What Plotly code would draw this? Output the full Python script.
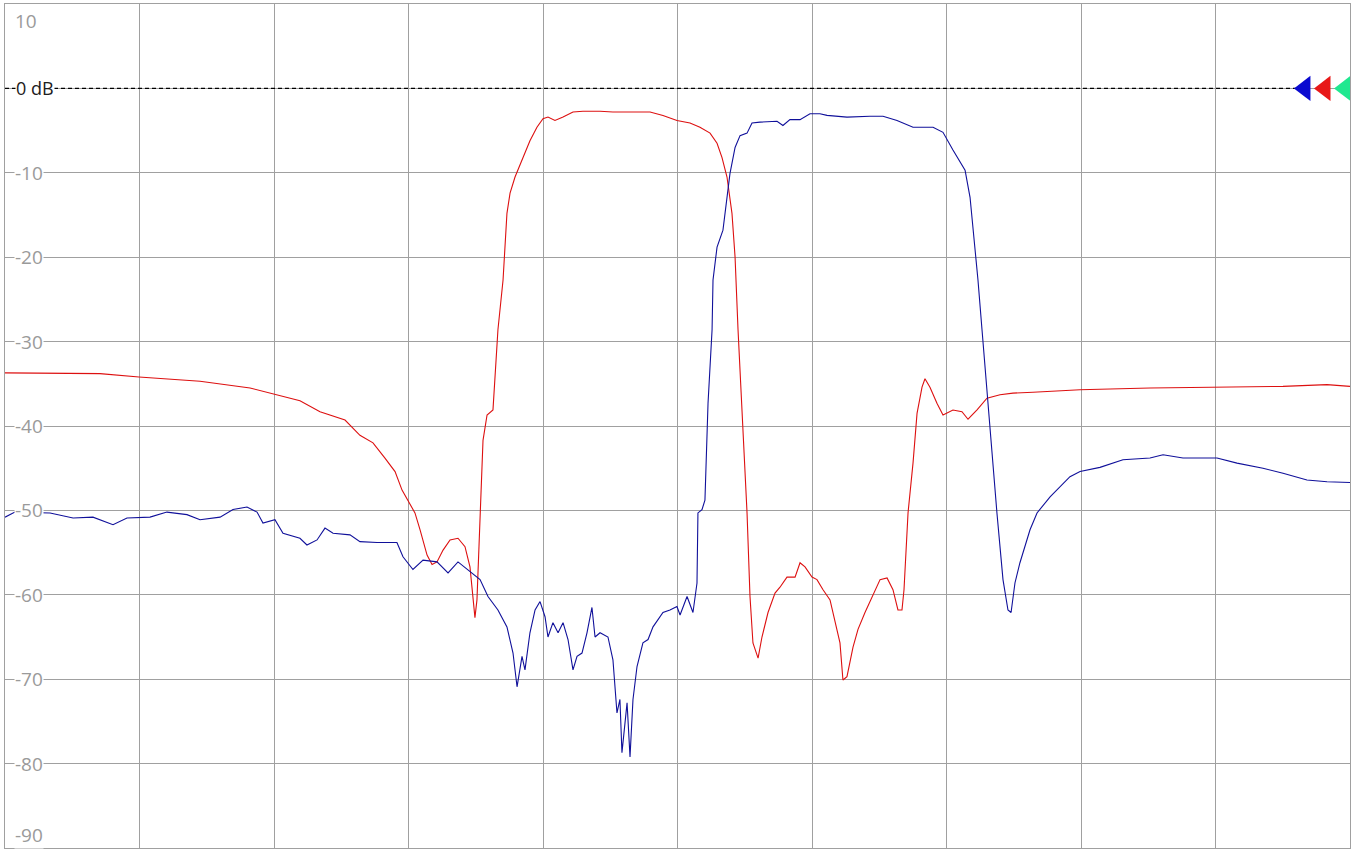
import plotly.graph_objects as go

# x in grid divisions (0..10), y in dB
red_x = [0, 0.706, 0.996, 1.450, 1.822, 2.0, 2.193, 2.342, 2.528, 2.639, 2.736, 2.825, 2.900, 2.952,
         3.011, 3.048, 3.086, 3.138, 3.175, 3.212, 3.257, 3.309, 3.368, 3.420, 3.457, 3.480, 3.494,
         3.509, 3.524, 3.539, 3.554, 3.584, 3.628, 3.665, 3.703, 3.732, 3.755, 3.792, 3.851, 3.903,
         3.955, 4.0, 4.037, 4.089, 4.149, 4.223, 4.297, 4.424, 4.520, 4.796, 4.892, 4.996, 5.093,
         5.167, 5.242, 5.294, 5.331, 5.368, 5.405, 5.428, 5.450, 5.487, 5.517, 5.539, 5.561, 5.599,
         5.628, 5.673, 5.725, 5.762, 5.814, 5.874, 5.911, 5.948, 6.0, 6.037, 6.082, 6.134, 6.171,
         6.208, 6.230, 6.260, 6.305, 6.342, 6.394, 6.446, 6.506, 6.558, 6.602, 6.639, 6.669, 6.684,
         6.714, 6.751, 6.781, 6.818, 6.840, 6.877, 6.929, 6.974, 7.048, 7.115, 7.160, 7.227, 7.301,
         7.398, 7.494, 7.643, 7.993, 8.513, 9.011, 9.502, 9.829, 10.0]
red_y = [-33.7, -33.8, -34.2, -34.7, -35.5, -36.2, -37.0, -38.3, -39.3, -41.1, -42.0, -43.8, -45.4, -47.6,
         -49.3, -50.3, -52.3, -55.3, -56.4, -56.1, -54.7, -53.5, -53.3, -54.3, -56.7, -60.2, -62.7,
         -60.6, -54.1, -48.8, -41.7, -38.7, -38.1, -28.6, -22.7, -14.8, -12.4, -10.5, -8.2, -6.2,
         -4.6, -3.6, -3.4, -3.8, -3.4, -2.8, -2.7, -2.7, -2.8, -2.8, -3.2, -3.8, -4.1,
         -4.6, -5.3, -6.5, -8.2, -10.5, -14.8, -20.0, -28.6, -40.5, -50.3, -60.2, -65.7, -67.5,
         -65.0, -62.1, -59.8, -59.1, -57.9, -57.9, -56.2, -56.7, -57.9, -58.2, -59.4, -60.6, -63.0,
         -65.7, -70.1, -69.7, -66.2, -64.1, -62.1, -60.2, -58.2, -58.0, -59.4, -61.8, -61.8, -59.4,
         -50.3, -44.4, -38.5, -35.4, -34.4, -35.4, -37.3, -38.7, -38.1, -38.3, -39.2, -38.1, -36.7,
         -36.3, -36.1, -36.0, -35.7, -35.5, -35.4, -35.3, -35.1, -35.3]

blue_x = [0, 0.074, 0.335, 0.506, 0.654, 0.803, 0.907, 1.078, 1.204, 1.353, 1.450, 1.599, 1.695, 1.799,
          1.874, 1.918, 2.007, 2.067, 2.193, 2.245, 2.320, 2.379, 2.439, 2.565, 2.639, 2.766, 2.914,
          2.959, 3.033, 3.108, 3.212, 3.294, 3.368, 3.457, 3.532, 3.591, 3.665, 3.732, 3.777, 3.807,
          3.844, 3.866, 3.903, 3.941, 3.978, 4.015, 4.037, 4.074, 4.112, 4.149, 4.186, 4.223, 4.253,
          4.290, 4.327, 4.364, 4.387, 4.424, 4.483, 4.520, 4.550, 4.572, 4.587, 4.625, 4.647, 4.669,
          4.699, 4.743, 4.781, 4.818, 4.892, 4.944, 4.996, 5.019, 5.071, 5.115, 5.145, 5.152, 5.182,
          5.204, 5.227, 5.257, 5.264, 5.294, 5.338, 5.390, 5.428, 5.465, 5.517, 5.554, 5.613, 5.740,
          5.784, 5.836, 5.911, 5.985, 6.059, 6.112, 6.260, 6.431, 6.528, 6.632, 6.751, 6.900, 6.974,
          7.048, 7.138, 7.175, 7.212, 7.234, 7.264, 7.323, 7.375, 7.420, 7.457, 7.480, 7.509, 7.546,
          7.621, 7.673, 7.770, 7.918, 7.993, 8.141, 8.312, 8.513, 8.610, 8.758, 9.011, 9.160, 9.353,
          9.502, 9.680, 9.829, 10.0]
blue_y = [-50.8, -50.2, -50.3, -50.9, -50.8, -51.7, -50.9, -50.8, -50.2, -50.5, -51.1, -50.8, -49.9, -49.6,
          -50.2, -51.5, -51.1, -52.7, -53.3, -54.1, -53.5, -52.1, -52.7, -52.9, -53.7, -53.8, -53.8,
          -55.5, -57.0, -55.9, -56.1, -57.4, -56.1, -57.3, -58.2, -60.2, -61.8, -63.8, -66.9, -70.9,
          -67.3, -68.9, -64.5, -61.8, -60.8, -62.6, -65.0, -63.3, -64.5, -63.3, -65.3, -68.9, -67.3,
          -66.9, -64.5, -61.5, -65.0, -64.5, -65.0, -67.7, -74.0, -72.4, -78.7, -72.8, -79.2, -72.4,
          -68.5, -65.7, -65.3, -63.8, -62.1, -61.8, -61.4, -62.4, -60.2, -62.1, -58.6, -50.3, -49.9,
          -48.8, -37.3, -28.6, -22.7, -18.8, -16.8, -10.1, -7.0, -5.6, -5.3, -4.1, -4.0, -3.9,
          -4.4, -3.7, -3.7, -3.0, -3.0, -3.2, -3.4, -3.3, -3.3, -3.8, -4.6, -4.6, -5.2,
          -7.3, -9.7, -12.9, -18.8, -22.7, -28.6, -40.5, -50.3, -58.2, -61.8, -62.1, -58.6, -56.2,
          -52.3, -50.3, -48.4, -46.0, -45.4, -44.9, -44.0, -43.8, -43.4, -43.8, -43.8, -44.4, -45.0,
          -45.6, -46.4, -46.6, -46.7]

tick_vals = [10, -10, -20, -30, -40, -50, -60, -70, -80, -90]
tick_text = ["10", "-10", "-20", "-30", "-40", "-50", "-60", "-70", "-80", "-90"]
ref_level = 0
ref_label = "0 dB"
marker_x = [9.665, 9.814, 9.963]
marker_colors = ["#0a0ad0", "#e81818", "#20e890"]

fig = go.Figure()

fig.add_trace(go.Scatter(x=[0, marker_x[0]], y=[ref_level, ref_level], mode="lines",
                         line=dict(color="#000000", width=1.2, dash="4px,3px"), hoverinfo="skip"))
fig.add_trace(go.Scatter(x=red_x, y=red_y, mode="lines", line=dict(color="#dd1010", width=1.1)))
fig.add_trace(go.Scatter(x=blue_x, y=blue_y, mode="lines", line=dict(color="#10109a", width=1.1)))
for mx, mc in zip(marker_x, marker_colors):
    fig.add_trace(go.Scatter(x=[mx], y=[ref_level], mode="markers", cliponaxis=False,
                             marker=dict(symbol="triangle-left", size=22, color=mc,
                                         line=dict(width=0))))

annotations = []
for v, t in zip(tick_vals, tick_text):
    yanchor = "middle"
    yshift = 0
    if v == 10:
        yanchor = "top"
        yshift = -3
    elif v == -90:
        yanchor = "bottom"
        yshift = -1
    annotations.append(dict(x=0, y=v, xref="paper", yref="y", text=t, showarrow=False,
                            xanchor="left", yanchor=yanchor, xshift=9, yshift=yshift,
                            font=dict(family="Open Sans", size=19, color="#9a9a9a"),
                            bgcolor="#ffffff", borderpad=0))
annotations.append(dict(x=0, y=ref_level, xref="paper", yref="y", text=ref_label, showarrow=False,
                        xanchor="left", yanchor="middle", xshift=10,
                        font=dict(family="Open Sans", size=18, color="#202020"),
                        bgcolor="#ffffff", borderpad=0))

fig.update_layout(
    width=1357, height=850,
    margin=dict(l=5, r=7, t=4, b=2),
    paper_bgcolor="#ffffff", plot_bgcolor="#ffffff",
    showlegend=False,
    annotations=annotations,
    xaxis=dict(range=[0, 10], dtick=1, tick0=0, showticklabels=False, ticks="",
               showgrid=True, gridcolor="#a0a0a0", gridwidth=1, zeroline=False,
               showline=True, linecolor="#a0a0a0", linewidth=1, mirror=True),
    yaxis=dict(range=[-90, 10], dtick=10, tick0=0, showticklabels=False, ticks="",
               showgrid=True, gridcolor="#a0a0a0", gridwidth=1, zeroline=False,
               showline=True, linecolor="#a0a0a0", linewidth=1, mirror=True),
)

fig.write_html("out.html")
